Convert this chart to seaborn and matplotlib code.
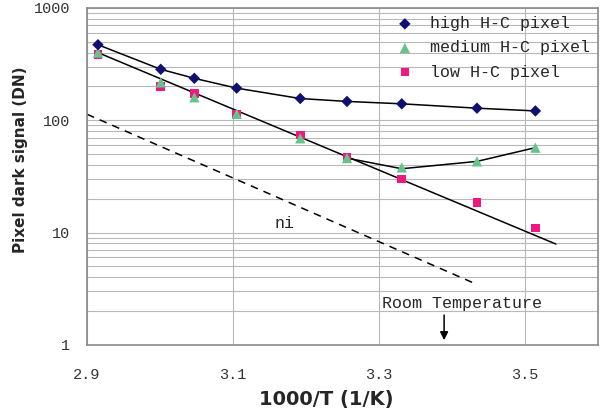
import matplotlib
matplotlib.use("Agg")
import matplotlib.pyplot as plt
from matplotlib.ticker import LogLocator, FixedLocator, NullFormatter
import seaborn as sns
import pandas as pd

# 1000/T values of the measurement points
inv_temp = [2.915, 3.001, 3.047, 3.105, 3.192, 3.256, 3.331, 3.434, 3.514]
high_hc = [470, 284, 236, 193, 156, 147, 140, 128, 121]
medium_hc = [400, 217, 160, 114, 69, 46, 38, 43, 57]
low_hc = [385, 200, 173, 113, 74, 47, 30, 18.5, 11]

# straight fit through the low H-C points
low_fit_x = [2.915, 3.542]
low_fit_y = [400, 7.9]
# medium H-C curve after it leaves the fit line
medium_curve_x = [3.256, 3.331, 3.434, 3.514]
medium_curve_y = [46, 37, 43, 57]
# intrinsic (ni) reference line
ni_x = [2.9, 3.434]
ni_y = [113, 3.45]

x_ticks = [2.9, 3.1, 3.3, 3.5]
y_ticks = [1, 10, 100, 1000]

names = ["high H-C pixel", "medium H-C pixel", "low H-C pixel"]
series = pd.DataFrame({
    "x": inv_temp * 3,
    "y": high_hc + medium_hc + low_hc,
    "pixel": [names[0]] * 9 + [names[1]] * 9 + [names[2]] * 9,
})

sns.set_style("white")
mono = ["Liberation Mono", "DejaVu Sans Mono"]
bold_sans = ["DejaVu Sans"]

fig = plt.figure(figsize=(6, 4.16), dpi=100)
ax = fig.add_axes([0.145, 0.171, 0.852, 0.81])

# lines
sns.lineplot(x=inv_temp, y=high_hc, color="black", linewidth=1.1, ax=ax, zorder=2)
sns.lineplot(x=low_fit_x, y=low_fit_y, color="black", linewidth=1.1, ax=ax, zorder=2)
sns.lineplot(x=medium_curve_x, y=medium_curve_y, color="black", linewidth=1.1, ax=ax, zorder=2)
sns.lineplot(x=ni_x, y=ni_y, color="black", linewidth=1.1, linestyle=(0, (5, 4)), ax=ax, zorder=2)

# points (low first so the triangles sit on top, as in the original)
palette = {names[0]: "#101070", names[1]: "#66c48a", names[2]: "#f0187e"}
markers = {names[0]: "D", names[1]: "^", names[2]: "s"}
sizes = {names[0]: 34, names[1]: 55, names[2]: 38}
for name in [names[2], names[1], names[0]]:
    sub = series[series["pixel"] == name]
    sns.scatterplot(data=sub, x="x", y="y", color=palette[name], marker=markers[name],
                    s=sizes[name], edgecolor="none", label=name, ax=ax, zorder=3)

ax.set_yscale("log")
ax.set_xlim(2.9, 3.6)
ax.set_ylim(1, 1000)
ax.xaxis.set_major_locator(FixedLocator(x_ticks))
ax.yaxis.set_major_locator(FixedLocator(y_ticks))
ax.yaxis.set_minor_locator(LogLocator(base=10, subs=range(2, 10)))
ax.yaxis.set_minor_formatter(NullFormatter())
ax.set_xticklabels([f"{v:.1f}" for v in x_ticks], family=mono, fontsize=11, color="#333333")
ax.set_yticklabels([str(v) for v in y_ticks], family=mono, fontsize=11, color="#333333")
ax.tick_params(axis="both", which="both", length=0)
ax.tick_params(axis="x", pad=17)
ax.tick_params(axis="y", pad=12)

ax.grid(True, which="major", axis="both", color="#b8b8b8", linewidth=0.8)
ax.grid(True, which="minor", axis="y", color="#b8b8b8", linewidth=0.8)
ax.set_axisbelow(True)
for s in ax.spines.values():
    s.set_color("#8a8a8a")
    s.set_linewidth(1.2)

ax.set_xlabel("1000/T (1/K)", family=bold_sans, fontweight="bold", fontsize=14, labelpad=2)
ax.xaxis.set_label_coords(0.468, -0.135)
ax.set_ylabel("Pixel dark signal (DN)", family=bold_sans, fontweight="bold", fontsize=11, labelpad=8)
ax.yaxis.set_label_coords(-0.115, 0.55)

ax.text(3.17, 12, "ni", family=mono, fontsize=12, ha="center", va="center")
ax.text(3.413, 2.35, "Room Temperature", family=mono, fontsize=12, ha="center", va="center")
ax.annotate("", xy=(3.389, 1.04), xytext=(3.389, 1.95),
            arrowprops=dict(arrowstyle="-|>", color="black", lw=1.1, mutation_scale=12))

handles, labels = ax.get_legend_handles_labels()
order = [labels.index(n) for n in names]
ax.legend([handles[i] for i in order], [labels[i] for i in order],
          loc="upper right", frameon=False, prop={"family": mono, "size": 12},
          handletextpad=0.5, labelspacing=0.55, borderaxespad=0.2, borderpad=0.3)

fig.savefig("out.png", dpi=100)
